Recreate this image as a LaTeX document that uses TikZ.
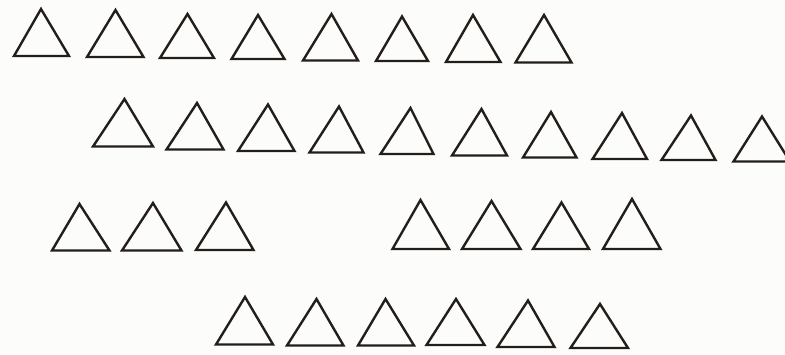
\documentclass[tikz,border=0pt]{standalone}
\usepackage{tikz}
\definecolor{ink}{HTML}{231E1A}
\definecolor{paper}{HTML}{FCFCFA}
\tikzset{tri/.style={draw=ink,line width=2.4pt,line join=miter}}
\newcommand{\mytri}[5]{\draw[tri] (#1,#2) -- (#4,#5) -- (#3,#5) -- cycle;}
\begin{document}
\begin{tikzpicture}[x=1pt,y=-1pt]
\fill[paper] (0,0) rectangle (785,354);
\useasboundingbox (0,0) rectangle (785,354);
% row 1
\mytri{41}{9}{14}{69}{56}
\mytri{115.5}{10}{87}{143.5}{57}
\mytri{187.5}{14}{160}{214}{58}
\mytri{258}{15}{231.5}{284.5}{59}
\mytri{331.5}{14}{303}{358}{60.5}
\mytri{402}{16.5}{376}{428}{61}
\mytri{473}{15}{446}{500.5}{62}
\mytri{544}{15}{515.5}{571.5}{62.5}
% row 2
\mytri{124.5}{99}{93}{153}{146.5}
\mytri{197}{103}{166.5}{223.5}{149.5}
\mytri{268}{104.5}{238}{294.5}{151}
\mytri{339}{106.5}{309.5}{363.5}{152.5}
\mytri{410.5}{108}{380.5}{433.5}{154}
\mytri{481.5}{109}{452}{507}{155.5}
\mytri{551}{112}{523}{576.5}{157.5}
\mytri{622}{113}{592.5}{647}{159}
\mytri{691}{115.5}{661.5}{715.5}{160}
\mytri{762}{116.5}{733.5}{790}{161.5}
% row 3
\mytri{79.5}{204}{52}{109.5}{250.5}
\mytri{153}{203}{122}{181.5}{250.5}
\mytri{226}{202.5}{196}{253.5}{250}
\mytri{420.5}{200}{392.5}{449}{249}
\mytri{491.5}{201}{462}{520.5}{249}
\mytri{561.5}{202.5}{533}{589}{249}
\mytri{632}{199}{603}{660.5}{249}
% row 4
\mytri{245}{297}{216}{273}{344.5}
\mytri{316.5}{299}{287}{343.5}{345.5}
\mytri{385.5}{299}{358}{414}{345.5}
\mytri{456}{299}{426.5}{484.5}{345}
\mytri{528}{300.5}{497.5}{554.5}{347}
\mytri{600}{304}{570.5}{628}{348}
\end{tikzpicture}
\end{document}
